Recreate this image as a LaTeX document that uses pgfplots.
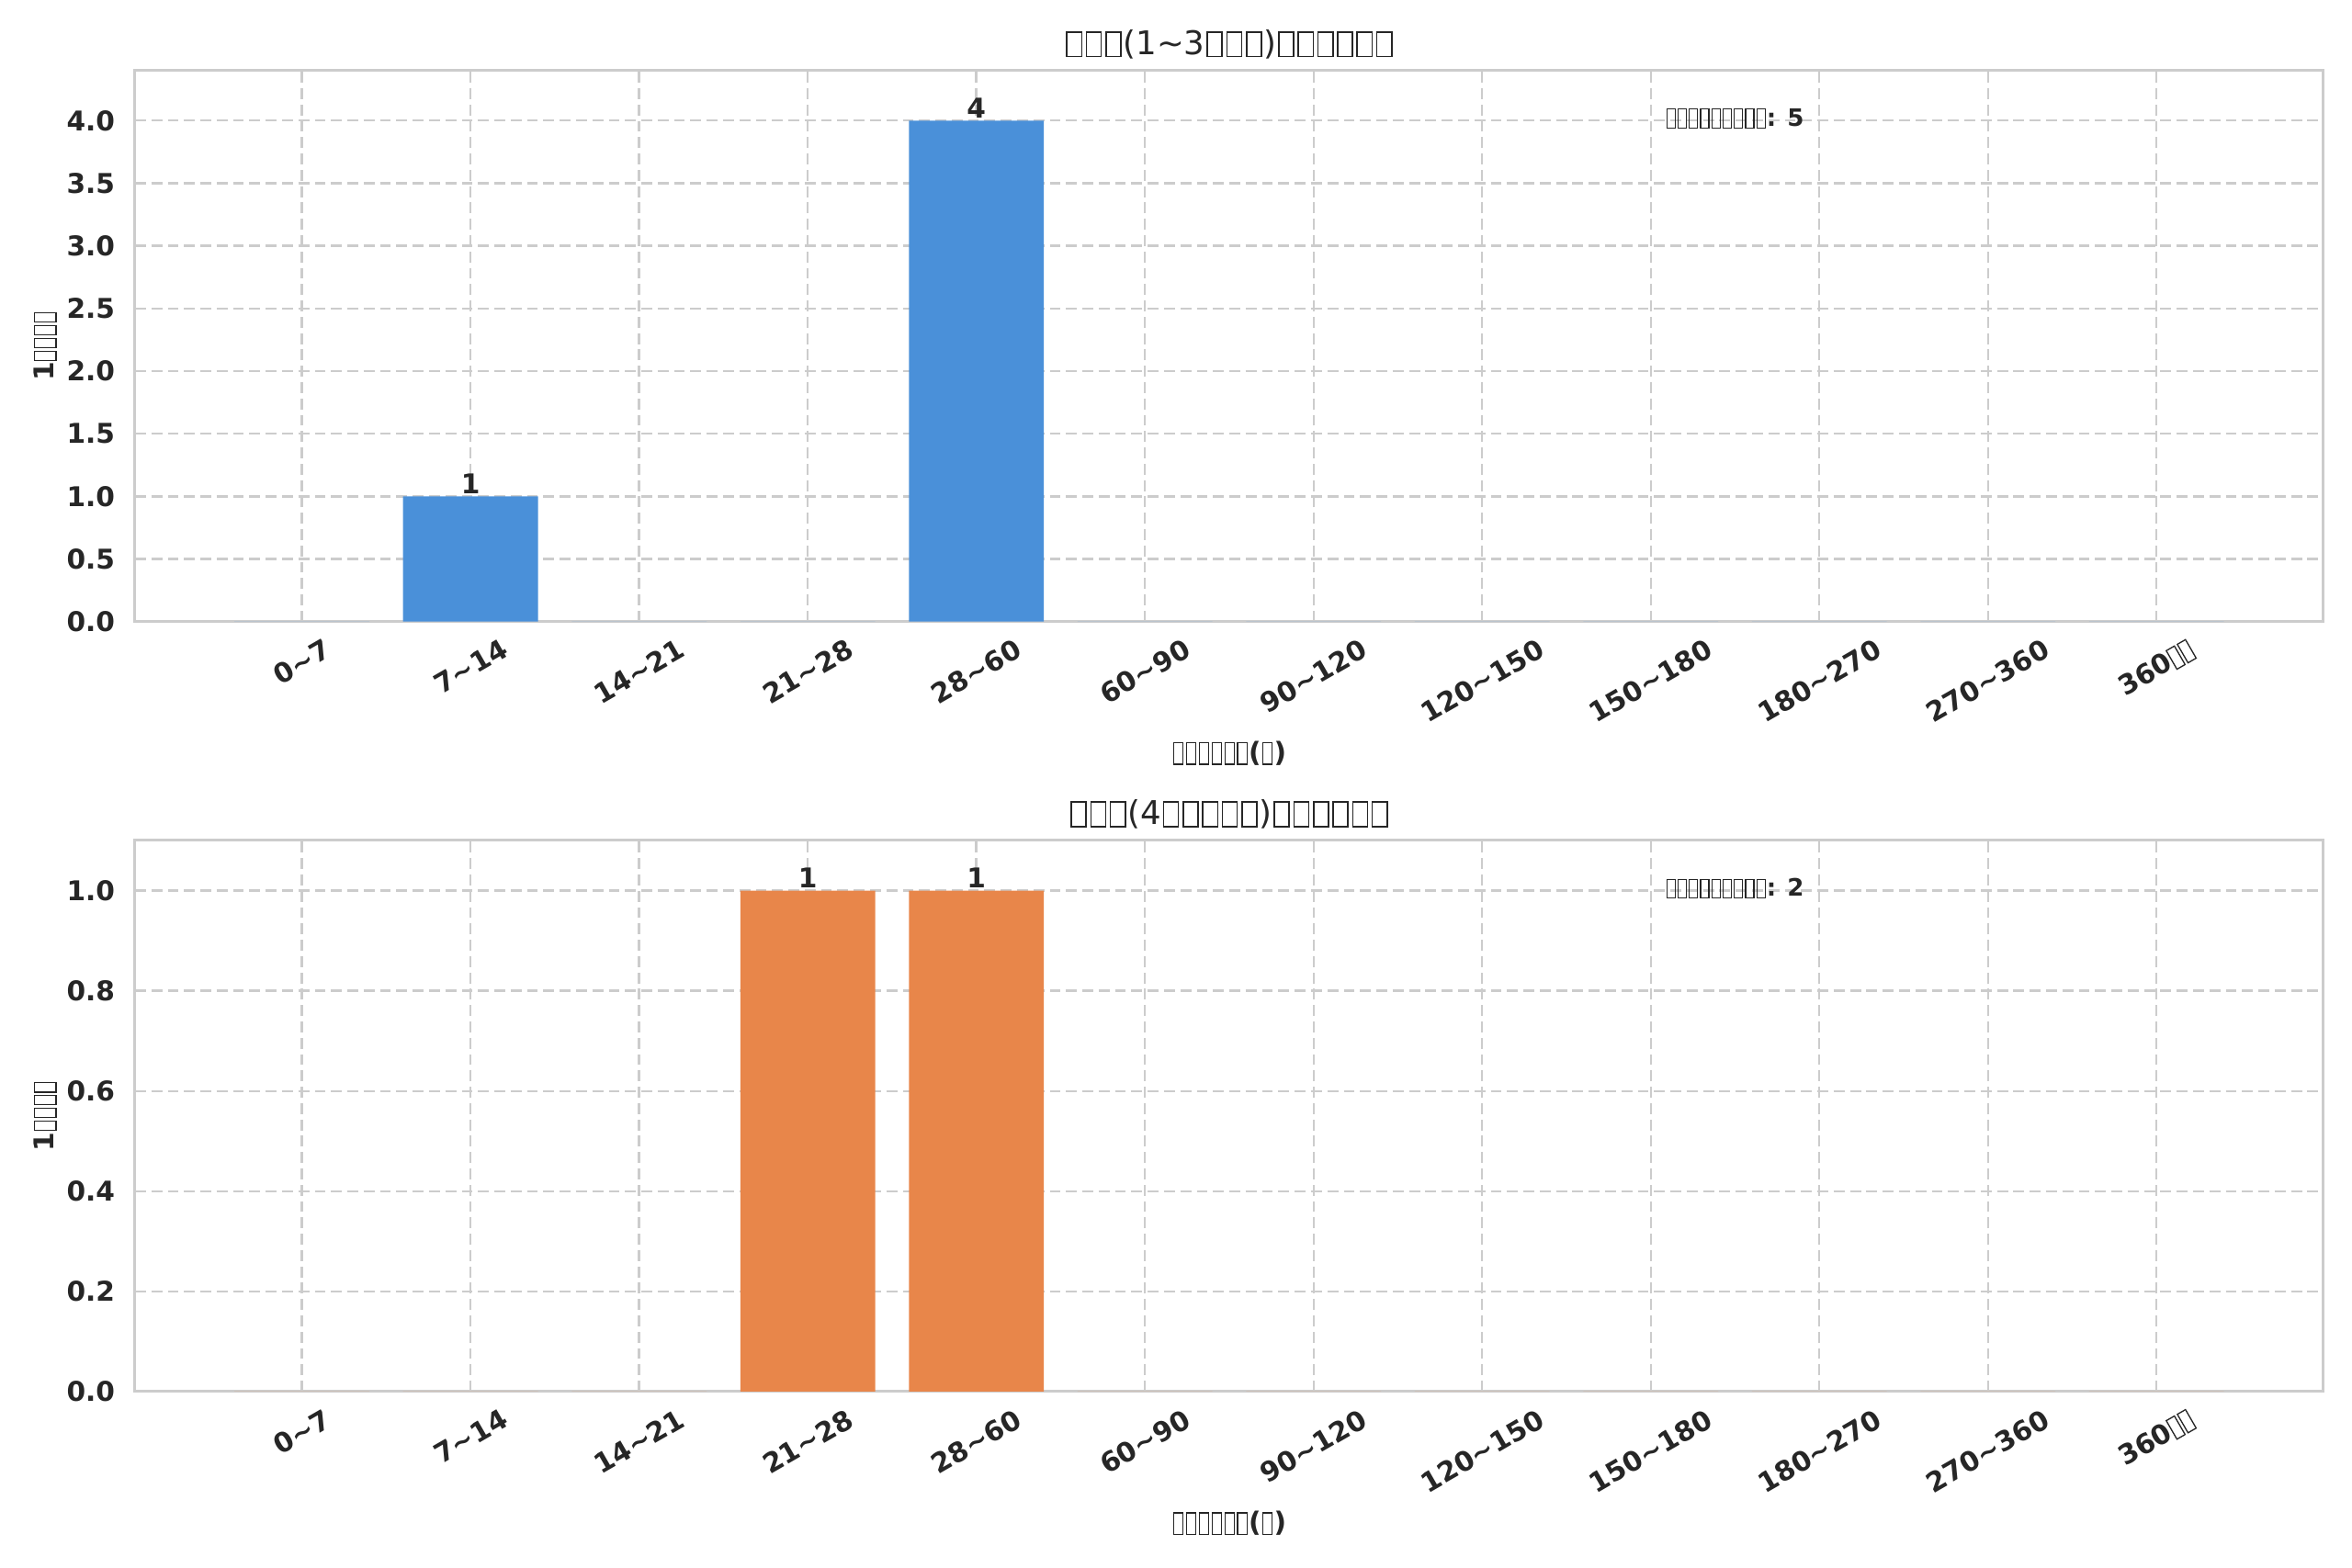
\documentclass[border=0pt]{standalone}
\usepackage{pgfplots}
\pgfplotsset{compat=1.18}
\usepackage{fontspec}
\setmainfont{DejaVu Sans}
\usepackage{graphicx}
\definecolor{barblue}{HTML}{4A90D9}
\definecolor{barorange}{HTML}{E8864A}
\definecolor{gridgray}{HTML}{CCCCCC}
\definecolor{txt}{HTML}{262626}
% box glyphs as shown for characters missing in the reference's font
% regular weight (advance 0.6em)
\newcommand{\B}{\kern0.05em\raisebox{-0.086em}{\vbox{\hrule height 0.045em\hbox{\vrule width 0.045em height 0.71em\kern0.41em\vrule width 0.045em}\hrule height 0.045em}}\kern0.05em}
% bold weight (advance 0.47em)
\newcommand{\Bb}{\kern0.04em\raisebox{-0.1em}{\vbox{\hrule height 0.045em\hbox{\vrule width 0.045em height 0.74em\kern0.30em\vrule width 0.045em}\hrule height 0.045em}}\kern0.04em}
\newcommand{\R}[1]{\rotatebox{30}{#1}}
\newcommand{\T}{\textasciitilde}
\pgfplotsset{
  every axis title/.style={at={(axis description cs:0.5,1)}, anchor=center, yshift=9.6pt,
      font=\fontsize{12}{14}\selectfont, text=txt},
  every axis x label/.style={at={(axis description cs:0.5,0)}, anchor=center, yshift=-48.5pt,
      font=\fontsize{10}{12}\selectfont\bfseries, text=txt},
  every axis y label/.style={at={(axis description cs:-0.041,0.5)}, anchor=center, rotate=90,
      font=\fontsize{10}{12}\selectfont\bfseries, text=txt},
  mystyle/.style={
    width=803.9pt, height=202.5pt, scale only axis,
    xmin=-0.99, xmax=11.99, ymin=0,
    ybar, bar width=0.8,
    xtick={0,...,11},
    xticklabels={{\R{0\T7}},{\R{7\T14}},{\R{14\T21}},{\R{21\T28}},{\R{28\T60}},{\R{60\T90}},{\R{90\T120}},{\R{120\T150}},{\R{150\T180}},{\R{180\T270}},{\R{270\T360}},{\R{360\Bb\Bb}}},
    major tick length=0pt,
    xmajorgrids, ymajorgrids,
    major grid style={gridgray, line width=0.8pt, dash pattern=on 4pt off 2pt},
    axis line style={gridgray, line width=1pt},
    /pgf/number format/assume math mode=true,
    tick label style={font=\fontsize{10}{12}\selectfont\bfseries, text=txt},
    xticklabel style={anchor=north, inner sep=0pt, yshift=-5.8pt},
    yticklabel style={anchor=east, inner sep=0pt, xshift=-7.2pt,
      /pgf/number format/.cd, fixed, fixed zerofill, precision=1},
    nodes near coords={\pgfmathfloatifflags{\pgfplotspointmeta}{0}{}{\pgfmathprintnumber{\pgfplotspointmeta}}},
    nodes near coords style={anchor=south, inner sep=0.8pt,
      font=\fontsize{10}{12}\selectfont\bfseries, text=txt},
    clip=false,
  }
}
\begin{document}
\begin{tikzpicture}
\path[use as bounding box] (-49.6pt,-64.7pt) rectangle (814.4pt,511.3pt);
\begin{axis}[mystyle, at={(0,282.9pt)}, ymax=4.4, ytick distance=0.5,
  title={\B\B\B(1\T3\B\B\B)\B\B\B\B\B\B},
  xlabel={\Bb\Bb\Bb\Bb\Bb\Bb(\Bb)}, ylabel={1\Bb\Bb\Bb\Bb}]
\addplot[fill=barblue, draw=none] coordinates {(0,0) (1,1) (2,0) (3,0) (4,4) (5,0) (6,0) (7,0) (8,0) (9,0) (10,0) (11,0)};
\node[anchor=west, inner sep=0pt, font=\fontsize{8.8}{10}\selectfont\bfseries, text=txt] at (rel axis cs:0.699,0.913) {\Bb\Bb\Bb\Bb\Bb\Bb\Bb\Bb\Bb: 5};
\end{axis}
\begin{axis}[mystyle, at={(0,0)}, ymax=1.1, ytick distance=0.2,
  title={\B\B\B(4\B\B\B\B\B)\B\B\B\B\B\B},
  xlabel={\Bb\Bb\Bb\Bb\Bb\Bb(\Bb)}, ylabel={1\Bb\Bb\Bb\Bb}]
\addplot[fill=barorange, draw=none] coordinates {(0,0) (1,0) (2,0) (3,1) (4,1) (5,0) (6,0) (7,0) (8,0) (9,0) (10,0) (11,0)};
\node[anchor=west, inner sep=0pt, font=\fontsize{8.8}{10}\selectfont\bfseries, text=txt] at (rel axis cs:0.699,0.913) {\Bb\Bb\Bb\Bb\Bb\Bb\Bb\Bb\Bb: 2};
\end{axis}
\end{tikzpicture}
\end{document}
